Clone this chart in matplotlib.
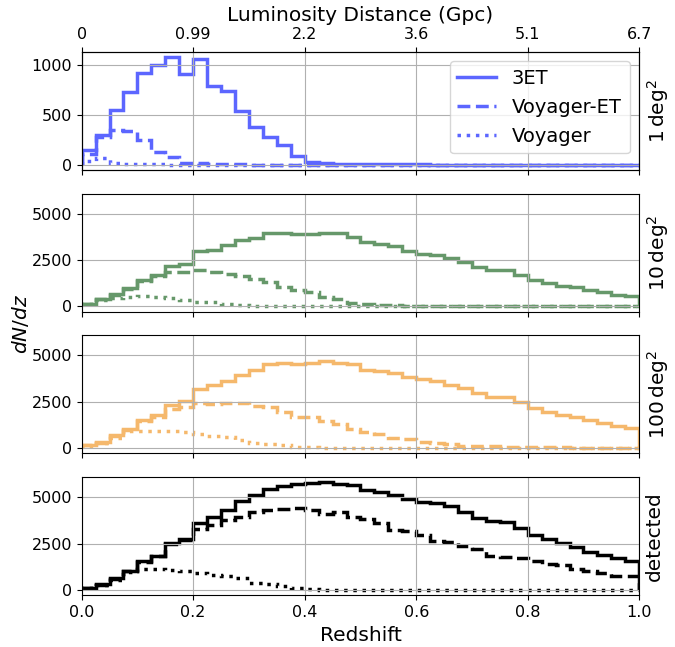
import numpy as np
import matplotlib
matplotlib.use("Agg")
from matplotlib import pyplot as plt

# redshift bins (0.025 wide)
z_edges = np.linspace(0, 1, 41)

# top axis: luminosity distance at z = 0, 0.2, ..., 1.0
z_ticks = [0, 0.2, 0.4, 0.6, 0.8, 1.0]
dl_labels = ["0", "0.99", "2.2", "3.6", "5.1", "6.7"]

labels = ["3ET", "Voyager-ET", "Voyager"]
panel_names = [r"$1\,\mathrm{deg}^2$", r"$10\,\mathrm{deg}^2$",
               r"$100\,\mathrm{deg}^2$", "detected"]
colors = ["#5c66ff", "#66986a", "#f5b86c", "black"]

# 1 deg^2
et_1 = [144, 292, 544, 725, 916, 997, 1077, 906, 1057, 785,
        735, 534, 372, 272, 191, 84, 30, 20, 5, 3,
        2, 2, 1, 1, 1, 0, 0, 0, 0, 0,
        0, 0, 0, 0, 0, 0, 0, 0, 0, 0]
vet_1 = [110, 280, 343, 333, 250, 127, 77, 17, 20, 3,
         2, 1, 0, 0, 0, 0, 0, 0, 0, 0,
         0, 0, 0, 0, 0, 0, 0, 0, 0, 0,
         0, 0, 0, 0, 0, 0, 0, 0, 0, 0]
voy_1 = [40, 63, 20, 10, 3, 1, 0, 0, 0, 0,
         0, 0, 0, 0, 0, 0, 0, 0, 0, 0,
         0, 0, 0, 0, 0, 0, 0, 0, 0, 0,
         0, 0, 0, 0, 0, 0, 0, 0, 0, 0]

# 10 deg^2
et_10 = [145, 380, 650, 977, 1394, 1683, 2172, 2299, 2987, 3041,
         3313, 3584, 3693, 3964, 3928, 3910, 3874, 3964, 3928, 3747,
         3457, 3385, 3276, 2987, 2806, 2769, 2625, 2371, 2118, 1937,
         1937, 1665, 1430, 1249, 1104, 1032, 887, 760, 634, 543]
vet_10 = [130, 400, 600, 950, 1350, 1650, 1828, 1864, 1937, 1828,
          1737, 1647, 1466, 1321, 1068, 887, 796, 507, 398, 199,
          127, 90, 54, 36, 18, 8, 5, 4, 3, 2,
          2, 1, 1, 1, 1, 0, 0, 0, 0, 0]
voy_10 = [100, 344, 434, 489, 561, 525, 434, 344, 235, 217,
          127, 54, 18, 8, 4, 2, 1, 0, 0, 0,
          0, 0, 0, 0, 0, 0, 0, 0, 0, 0,
          0, 0, 0, 0, 0, 0, 0, 0, 0, 0]

# 100 deg^2
et_100 = [145, 308, 706, 1032, 1502, 1810, 2335, 2516, 3204, 3421,
          3638, 3964, 4217, 4525, 4579, 4543, 4597, 4706, 4615, 4525,
          4235, 4163, 4073, 3855, 3711, 3620, 3421, 3258, 2950, 2733,
          2733, 2480, 2172, 1973, 1792, 1683, 1502, 1358, 1213, 1086]
vet_100 = [140, 300, 650, 1000, 1450, 1683, 2082, 2208, 2407, 2389,
           2407, 2407, 2263, 2190, 1973, 1683, 1683, 1448, 1321, 1032,
           851, 742, 561, 489, 308, 272, 235, 109, 109, 90,
           72, 54, 54, 36, 36, 18, 18, 18, 18, 18]
voy_100 = [100, 250, 543, 905, 941, 941, 905, 869, 778, 670,
           597, 453, 272, 199, 163, 72, 36, 18, 5, 2,
           1, 0, 0, 0, 0, 0, 0, 0, 0, 0,
           0, 0, 0, 0, 0, 0, 0, 0, 0, 0]

# detected
et_det = [90, 290, 615, 1032, 1556, 1846, 2534, 2751, 3602, 3946,
          4290, 4797, 5140, 5430, 5611, 5683, 5737, 5792, 5701, 5629,
          5376, 5285, 5104, 4905, 4724, 4706, 4543, 4181, 3892, 3729,
          3656, 3349, 2950, 2733, 2516, 2335, 2063, 1882, 1719, 1575]
vet_det = [80, 270, 600, 1000, 1500, 1800, 2500, 2700, 3294, 3511,
           3783, 3928, 4181, 4290, 4344, 4398, 4326, 4091, 4217, 3928,
           3837, 3602, 3240, 3168, 2950, 2661, 2588, 2371, 2190, 1846,
           1756, 1719, 1575, 1394, 1321, 1140, 1032, 923, 760, 742]
voy_det = [80, 250, 550, 950, 1104, 1104, 1068, 1032, 905, 815,
           760, 634, 380, 308, 235, 90, 36, 18, 5, 2,
           1, 0, 0, 0, 0, 0, 0, 0, 0, 0,
           0, 0, 0, 0, 0, 0, 0, 0, 0, 0]

panels = [(et_1, vet_1, voy_1), (et_10, vet_10, voy_10),
          (et_100, vet_100, voy_100), (et_det, vet_det, voy_det)]
styles = ["-", "--", ":"]

fig, axes = plt.subplots(4, 1, sharex=True, figsize=(6.75, 6.47), dpi=100)
axes[2].sharey(axes[1])
axes[3].sharey(axes[1])
fig.subplots_adjust(left=0.121, right=0.947, top=0.920, bottom=0.080, hspace=0.2)

for ax, data, col, name in zip(axes, panels, colors, panel_names):
    ax.use_sticky_edges = False
    for vals, ls, lab in zip(data, styles, labels):
        ax.stairs(vals, z_edges, color=col, ls=ls, lw=2.5, label=lab)
    ax.grid(True)
    ax.yaxis.set_label_position("right")
    ax.set_ylabel(name, fontsize=14.5)
    ax.tick_params(labelsize=11.5)
    ax.autoscale_view()

axes[0].set_yticks([0, 500, 1000])
for ax in axes[1:]:
    ax.set_yticks([0, 2500, 5000])
axes[0].legend(loc="upper right", fontsize=14)

axes[3].set_xlim(0, 1)
axes[3].set_xlabel("Redshift", fontsize=14.5)

top = axes[0].twiny()
top.set_xlim(0, 1)
top.set_xticks(z_ticks)
top.set_xticklabels(dl_labels)
top.tick_params(labelsize=11.5)
top.set_xlabel("Luminosity Distance (Gpc)", fontsize=14.5)

fig.text(0.03, 0.5, r"$dN/dz$", rotation=90, fontsize=14.5, va="center", ha="center")

fig.savefig("out.png", dpi=100)
